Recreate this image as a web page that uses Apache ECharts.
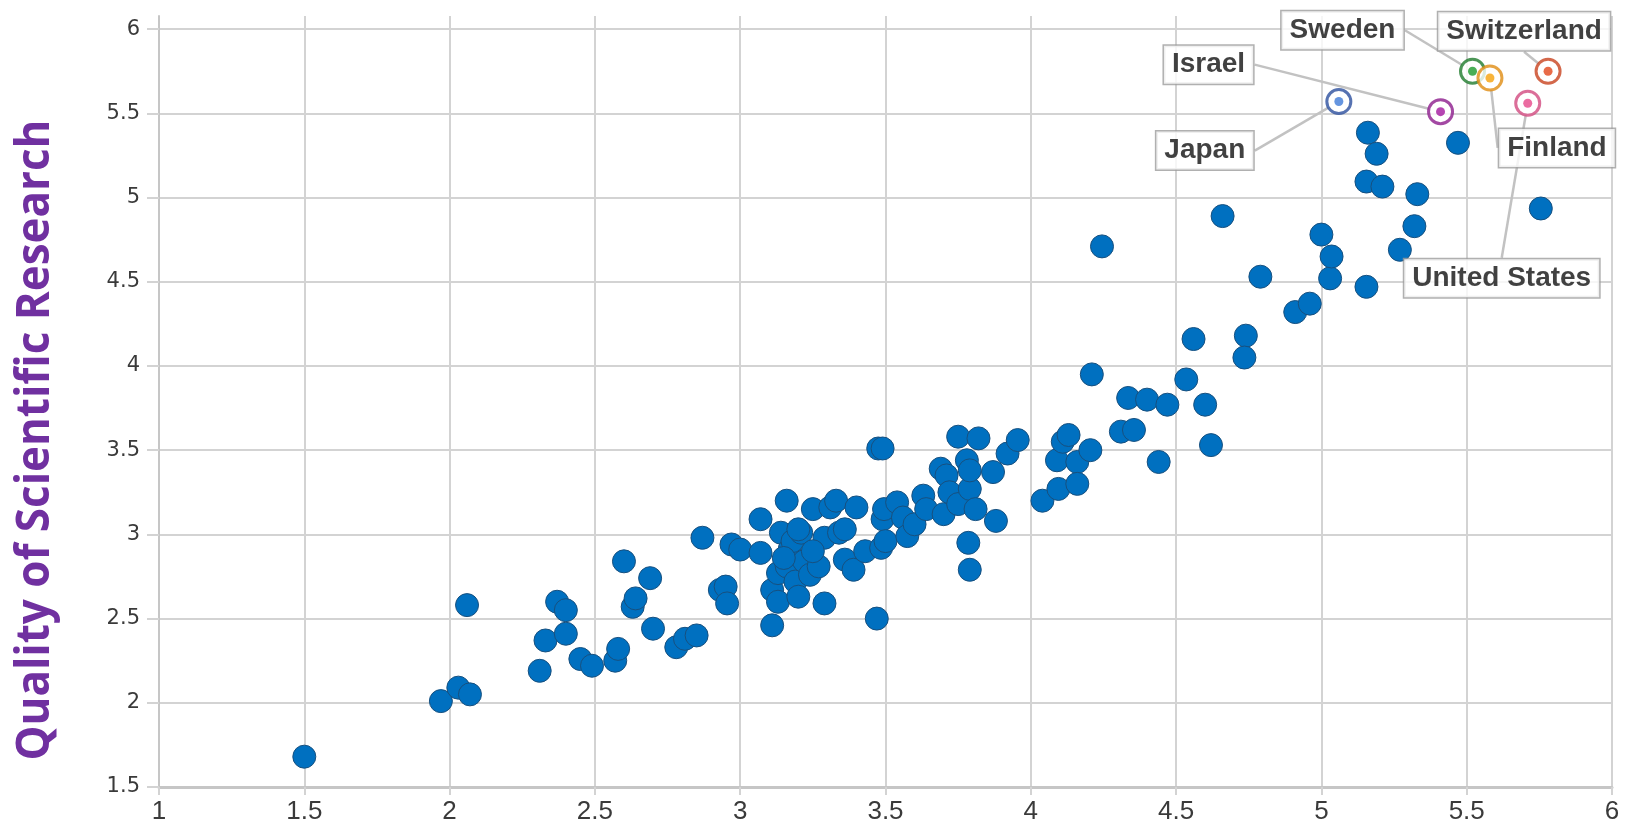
<!DOCTYPE html>
<html>
<head>
<meta charset="utf-8">
<script src="https://cdn.jsdelivr.net/npm/echarts@6/dist/echarts.min.js"></script>
<style>
html,body{margin:0;padding:0;background:#fff;}
#chart{width:1636px;height:825px;}
</style>
</head>
<body>
<div id="chart"></div>
<script>
// ---- data ----
const xTicks = [1, 1.5, 2, 2.5, 3, 3.5, 4, 4.5, 5, 5.5, 6];
const yTicks = [1.5, 2, 2.5, 3, 3.5, 4, 4.5, 5, 5.5, 6];
const yAxisTitle = 'Quality of Scientific Research';

const xVals = [
  1.50, 1.97, 2.03, 2.07, 2.06, 2.31, 2.33, 2.37, 2.40, 2.40,
  2.45, 2.49, 2.57, 2.58, 2.60, 2.63, 2.64, 2.69, 2.70, 2.78,
  2.81, 2.85, 2.87, 2.93, 2.95, 2.955, 2.97, 3.00, 3.07, 3.07,
  3.11, 3.11, 3.13, 3.13, 3.14, 3.16, 3.16, 3.17, 3.18, 3.19,
  3.20, 3.21, 3.22, 3.24, 3.25, 3.27, 3.29, 3.29, 3.31, 3.33,
  3.34, 3.36, 3.39, 3.40, 3.43, 3.47, 3.475, 3.49, 3.485, 3.49,
  3.495, 3.50, 3.54, 3.56, 3.575, 3.60, 3.63, 3.64, 3.69, 3.70,
  3.71, 3.72, 3.75, 3.75, 3.78, 3.785, 3.79, 3.79, 3.81, 3.82,
  3.87, 3.88, 3.92, 3.955, 4.04, 4.095, 4.09, 4.11, 4.13, 4.16,
  4.16, 4.21, 4.205, 4.245, 4.31, 4.335, 4.355, 4.40, 4.44, 4.47,
  4.535, 4.56, 4.60, 4.62, 4.66, 4.74, 4.735, 4.79, 4.91, 4.96,
  5.00, 5.03, 5.035, 5.155, 5.155, 5.16, 5.19, 5.21, 5.27, 5.32,
  5.33, 5.47, 5.755, 3.36, 3.15, 3.25, 3.79, 3.20
];
const yVals = [
  1.68, 2.01, 2.09, 2.05, 2.58, 2.19, 2.37, 2.60, 2.55, 2.41,
  2.26, 2.22, 2.25, 2.32, 2.84, 2.57, 2.62, 2.74, 2.44, 2.33,
  2.38, 2.40, 2.98, 2.67, 2.69, 2.59, 2.94, 2.91, 3.09, 2.89,
  2.46, 2.67, 2.77, 2.60, 3.01, 3.20, 2.81, 2.91, 2.96, 2.72,
  2.63, 3.01, 2.84, 2.76, 3.15, 2.81, 2.59, 2.98, 3.16, 3.20,
  3.01, 2.85, 2.79, 3.16, 2.90, 2.50, 3.51, 3.51, 2.92, 3.09,
  3.15, 2.96, 3.19, 3.10, 2.99, 3.06, 3.23, 3.15, 3.39, 3.12,
  3.35, 3.25, 3.58, 3.18, 3.44, 2.95, 2.79, 3.27, 3.15, 3.57,
  3.37, 3.08, 3.48, 3.56, 3.20, 3.27, 3.44, 3.55, 3.59, 3.43,
  3.30, 3.95, 3.50, 4.71, 3.61, 3.81, 3.62, 3.80, 3.43, 3.77,
  3.92, 4.16, 3.77, 3.53, 4.89, 4.18, 4.05, 4.53, 4.32, 4.37,
  4.78, 4.52, 4.65, 4.47, 5.095, 5.385, 5.26, 5.065, 4.69, 4.83,
  5.02, 5.325, 4.935, 3.03, 2.86, 2.90, 3.38, 3.03
];

const hlNames = ['Japan', 'Israel', 'Sweden', 'Finland', 'United States', 'Switzerland'];
const hlX = [5.06, 5.41, 5.52, 5.58, 5.71, 5.78];
const hlY = [5.57, 5.51, 5.75, 5.71, 5.56, 5.75];

// ---- styles ----
const hlRing = {
  'Japan': '#2c4f9e', 'Israel': '#8c1b8c', 'Sweden': '#1e7a2c',
  'Finland': '#e08c12', 'United States': '#d24a80', 'Switzerland': '#c8421e'
};
const hlDot = {
  'Japan': '#3f7ad8', 'Israel': '#a3169f', 'Sweden': '#1c9a2c',
  'Finland': '#f6a10a', 'United States': '#e6478a', 'Switzerland': '#e2461a'
};
const labelOffset = {
  'Sweden': [-130, -41], 'Switzerland': [-24, -40], 'Israel': [-232, -47],
  'Japan': [-134, 49], 'Finland': [67, 70], 'United States': [-26, 175]
};

const blueData = xVals.map((x, i) => [x, yVals[i]]);
const hlRingData = hlNames.map((n, i) => ({
  name: n, value: [hlX[i], hlY[i]],
  itemStyle: { color: '#ffffff', borderColor: hlRing[n], borderWidth: 3 }
}));
const hlDotData = hlNames.map((n, i) => ({
  name: n, value: [hlX[i], hlY[i]],
  itemStyle: { color: hlDot[n] }
}));

const gridColor = '#d3d3d3';
const chart = echarts.init(document.getElementById('chart'), null, { renderer: 'canvas' });

chart.setOption({
  animation: false,
  backgroundColor: '#ffffff',
  grid: { left: 159, right: 24, top: 16, bottom: 35 },
  xAxis: {
    type: 'value', min: 1, max: 6, interval: 0.5,
    axisLine: { show: true, onZero: false, lineStyle: { color: '#c6c6c6', width: 3 } },
    axisTick: { show: true, length: 8, lineStyle: { color: gridColor, width: 2 } },
    axisLabel: {
      margin: 12, color: '#3a3a3a', fontSize: 26,
      fontFamily: '"Liberation Sans Narrow", "Liberation Sans", Arial, sans-serif',
      formatter: v => String(v)
    },
    splitLine: { show: true, lineStyle: { color: gridColor, width: 2 } }
  },
  yAxis: {
    type: 'value', min: 1.5, max: 6.078, interval: 0.5,
    axisLine: { show: true, onZero: false, lineStyle: { color: '#c6c6c6', width: 2 } },
    axisTick: { show: true, length: 12, lineStyle: { color: gridColor, width: 2 } },
    axisLabel: {
      margin: 19, color: '#3a3a3a', fontSize: 21, showMaxLabel: false,
      fontFamily: '"DejaVu Sans", Verdana, sans-serif',
      formatter: v => (yTicks.indexOf(+v.toFixed(3)) >= 0 ? String(v) : '')
    },
    splitLine: { show: true, showMaxLine: false, lineStyle: { color: gridColor, width: 2 } }
  },
  graphic: [{
    type: 'text',
    x: 36, y: 440,
    rotation: Math.PI / 2,
    scaleX: 0.955,
    style: {
      text: yAxisTitle,
      fill: '#7030a0',
      font: 'bold 46px "Open Sans", "Noto Sans", sans-serif',
      align: 'center',
      verticalAlign: 'middle'
    },
    z: 100
  }],
  series: [
    {
      type: 'scatter',
      data: blueData,
      symbol: 'circle',
      symbolSize: 23,
      itemStyle: { color: '#0070c0', borderColor: '#17507f', borderWidth: 1, opacity: 1 },
      z: 2
    },
    {
      type: 'scatter',
      data: hlRingData,
      symbol: 'circle',
      symbolSize: 24,
      label: {
        show: true,
        position: 'inside',
        formatter: p => p.name,
        color: '#111111',
        fontFamily: '"Liberation Sans", Arial, sans-serif',
        fontWeight: 'bold',
        fontSize: 28,
        lineHeight: 28,
        backgroundColor: '#ffffff',
        borderColor: '#9c9c9c',
        borderWidth: 1.5,
        padding: [5, 8, 5, 8]
      },
      labelLine: { show: true, lineStyle: { color: '#c2c2c2', width: 2.5 } },
      labelLayout: p => {
        const o = labelOffset[hlNames[p.dataIndex]];
        return { dx: o[0], dy: o[1] };
      },
      z: 3
    },
    {
      type: 'scatter',
      data: hlDotData,
      symbol: 'circle',
      symbolSize: 9,
      silent: true,
      z: 4
    }
  ]
});
</script>
</body>
</html>
